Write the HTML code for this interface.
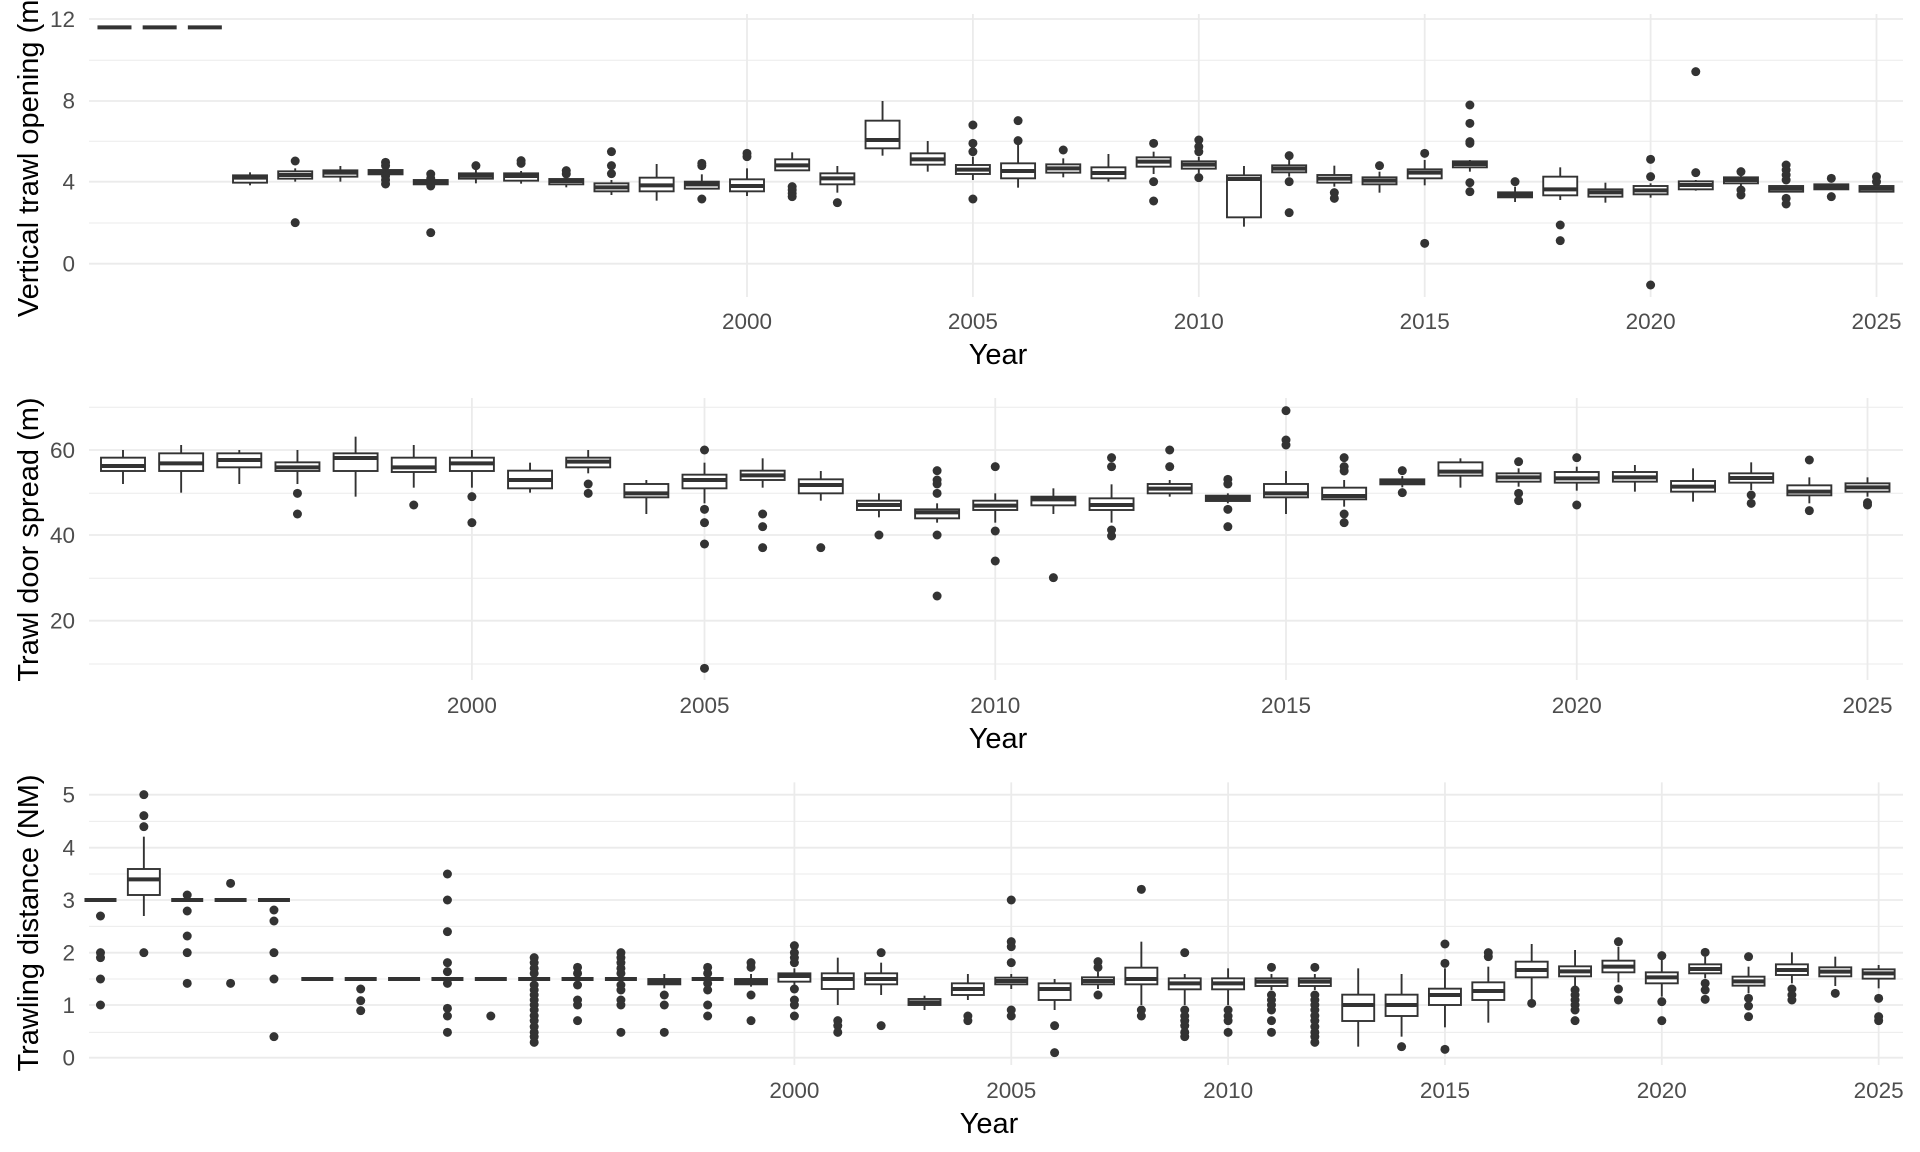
<!DOCTYPE html>
<html><head><meta charset="utf-8"><style>
html,body{margin:0;padding:0;background:#fff;}
svg{display:block;}
text{font-family:"Liberation Sans",Arial,sans-serif;}
</style></head><body>
<svg id="s" xmlns="http://www.w3.org/2000/svg" width="1920" height="1152" viewBox="0 0 1920 1152"></svg>
<script>
const S=document.getElementById('s');let h='';
const G='#ebebeb',D='#333333';
function grid(x0,x1,yMaj,yMin,xs,yt,yb){
 yMin.forEach(y=>h+=`<line x1="${x0}" x2="${x1}" y1="${y}" y2="${y}" stroke="${G}" stroke-width="1"/>`);
 yMaj.forEach(y=>h+=`<line x1="${x0}" x2="${x1}" y1="${y}" y2="${y}" stroke="${G}" stroke-width="1.8"/>`);
 xs.forEach(x=>h+=`<line x1="${x}" x2="${x}" y1="${yt}" y2="${yb}" stroke="${G}" stroke-width="1.8"/>`);
}
function lab(x,y,t,a,sz,col){h+=`<text x="${x}" y="${y}" font-size="${sz}" fill="${col}" text-anchor="${a}">${t}</text>`;}
function ytitle(cy,t){h+=`<text transform="translate(38,${cy}) rotate(-90)" font-size="29" fill="#000" text-anchor="middle">${t}</text>`;}
function box(x,hw,q1,m,q3,w1,w2,outs){
 if(w1==null)w1=q1; if(w2==null)w2=q3;
 h+=`<line x1="${x}" x2="${x}" y1="${w1}" y2="${q1}" stroke="${D}" stroke-width="1.9"/>`;
 h+=`<line x1="${x}" x2="${x}" y1="${q3}" y2="${w2}" stroke="${D}" stroke-width="1.9"/>`;
 if(q3-q1>0.5) h+=`<rect x="${x-hw}" y="${q1}" width="${2*hw}" height="${q3-q1}" fill="#fff" stroke="${D}" stroke-width="1.9"/>`;
 h+=`<line x1="${x-hw}" x2="${x+hw}" y1="${m}" y2="${m}" stroke="${D}" stroke-width="4"/>`;
 (outs||[]).forEach(o=>h+=`<circle cx="${x}" cy="${o}" r="4.5" fill="${D}"/>`);
}
(function(){
 const X=y=>747+45.18*(y-2000), Y=z=>z/3;
 grid(89,1903,[19,101,181.7,263.7],[60.3,141.3,223],[0,5,10,15,20,25].map(k=>X(2000+k)),14,297);
 [['12',27],['8',108.5],['4',189.5],['0',271.5]].forEach(a=>lab(75,a[1],a[0],'end',22.5,'#4d4d4d'));
 [0,5,10,15,20,25].forEach(k=>lab(X(2000+k),329,2000+k,'middle',22.5,'#4d4d4d'));
 lab(998,364,'Year','middle',29,'#000');
 ytitle(153.5,'Vertical trawl opening (m)');
 const d=[
 [1986,82,82,82],[1987,82,82,82],[1988,82,82,82],
 [1989,526,533,548,517,556],[1990,514,525,536,505,545,[483,668]],[1991,511,518,530,498,545],
 [1992,510,516,523,null,null,[487,497,528,540,552]],[1993,540,546,553,null,null,[522,535,558,698]],
 [1994,520,527,536,510,550,[497]],[1995,520,528,542,513,551,[482,490]],[1996,537,543,553,null,562,[512,522]],
 [1997,550,562,574,540,585,[455,497,521]],[1998,533,556,574,492,602],[1999,545,553,566,523,566,[490,497,597]],
 [2000,538,558,574,505,588,[460,470]],[2001,478,496,511,457,511,[560,570,580,590]],[2002,520,535,553,498,578,[608]],
 [2003,362,420,445,303,467],[2004,460,478,494,423,515],
 [2005,495,509,522,470,540,[375,430,455,597]],[2006,490,513,535,422,563,[362,422]],[2007,493,505,518,475,532,[450]],
 [2008,502,519,535,462,545],[2009,472,485,500,455,522,[430,545,603]],[2010,484,494,506,470,520,[420,440,455,533]],
 [2011,526,537,652,498,680],[2012,496,506,517,480,530,[467,545,638]],[2013,525,536,548,497,560,[578,595]],
 [2014,532,542,553,515,578,[497]],[2015,508,518,535,480,556,[460,730]],[2016,484,492,502,480,515,[315,370,425,430,548,575]],
 [2017,577,585,592,560,606,[545]],[2018,530,568,586,502,600,[675,722]],[2019,568,577,590,548,608],
 [2020,558,571,583,550,593,[478,530,855]],[2021,544,555,568,540,572,[215,518]],[2022,532,540,550,520,560,[515,570,585]],
 [2023,558,566,575,null,null,[495,510,525,540,595,612]],[2024,553,560,568,null,null,[535,590]],[2025,558,566,575,null,null,[530,545]]];
 d.forEach(r=>box(X(r[0]),17,Y(r[1]),Y(r[2]),Y(r[3]),r[4]==null?null:Y(r[4]),r[5]==null?null:Y(r[5]),(r[6]||[]).map(Y)));
})();
(function(){
 const X=i=>123+58.15*i, Y=z=>390+z/3;
 grid(89,1903,[450,535,620.7],[407.3,493.3,578.3,664],[6,10,15,20,25,30].map(X),398,680);
 [['60',458],['40',543],['20',628.5]].forEach(a=>lab(75,a[1],a[0],'end',22.5,'#4d4d4d'));
 [[6,2000],[10,2005],[15,2010],[20,2015],[25,2020],[30,2025]].forEach(a=>lab(X(a[0]),713,a[1],'middle',22.5,'#4d4d4d'));
 lab(998,748,'Year','middle',29,'#000');
 ytitle(539.5,'Trawl door spread (m)');
 const d=[
 [203,228,243,180,282],[190,220,243,165,308],[190,210,232,180,282],[217,232,243,180,282,[310,372]],
 [190,204,243,140,320],[203,232,246,165,293,[345]],[203,220,243,180,293,[320,398]],[242,270,295,218,308],
 [203,215,232,180,250,[282,310]],[282,310,322,270,372],[254,270,295,218,340,[180,358,398,462,835]],
 [242,256,270,205,293,[372,410,473]],[268,285,310,243,332,[473]],[332,345,360,310,382,[435]],
 [358,367,385,340,398,[242,270,282,310,435,618]],
 [332,347,360,310,398,[230,423,513]],[320,328,346,295,372,[563]],[325,345,360,283,398,[203,230,420,438]],
 [282,296,310,270,320,[180,230]],[317,325,333,310,340,[268,282,358,410]],[282,310,322,243,372,[62,150,165]],
 [293,318,328,270,350,[203,230,243,372,398]],[268,275,283,258,292,[242,308]],[217,245,257,205,293],
 [250,262,275,235,290,[215,310,332]],[246,265,278,230,302,[203,345]],[246,262,275,225,305],
 [273,290,305,235,335],[250,264,278,217,300,[315,340]],[286,305,316,262,340,[210,362]],[280,292,305,262,320,[338,345]]];
 d.forEach((r,i)=>box(X(i),22,Y(r[0]),Y(r[1]),Y(r[2]),Y(r[3]),Y(r[4]),(r[5]||[]).map(Y)));
})();
(function(){
 const X=y=>794.4+43.37*(y-2000), Y=z=>770+z/3;
 grid(89,1903,[74,233,390,548,705,863].map(Y),[154,312,469,627,787].map(Y),[0,5,10,15,20,25].map(k=>X(2000+k)),Y(37),Y(885));
 ['5','4','3','2','1','0'].forEach((t,i)=>lab(75,Y([74,233,390,548,705,863][i])+8,t,'end',22.5,'#4d4d4d'));
 [0,5,10,15,20,25].forEach(k=>lab(X(2000+k),1098,2000+k,'middle',22.5,'#4d4d4d'));
 lab(989,1133,'Year','middle',29,'#000');
 ytitle(923,'Trawling distance (NM)');
 const d=[
 [1984,390,390,390,null,null,[438,548,563,627,705]],[1985,297,328,375,200,438,[74,137,170,548]],
 [1986,390,390,390,368,null,[375,423,498,548,640]],[1987,390,390,390,null,null,[340,640]],
 [1988,390,390,390,null,null,[420,453,548,627,800]],[1989,627,627,627],[1990,627,627,627,null,null,[657,692,722]],
 [1991,627,627,627],[1992,627,627,627,null,null,[312,390,485,578,605,640,715,738,787]],[1993,627,627,627,null,null,[738]],
 [1994,627,627,627,null,null,[563,578,595,610,645,660,675,690,705,720,737,752,770,787,800,817]],
 [1995,627,627,627,null,null,[592,610,645,690,705,752]],[1996,627,627,627,null,null,[548,563,578,595,610,645,660,690,705,787]],
 [1997,627,635,643,612,655,[675,705,787]],[1998,627,627,627,null,null,[592,610,640,660,705,738]],
 [1999,627,635,643,612,650,[578,592,675,752]],[2000,610,618,635,595,650,[527,548,563,578,657,690,705,738]],
 [2001,610,627,657,563,705,[752,767,787]],[2002,610,627,643,578,675,[548,767]],[2003,687,697,705,677,720],
 [2004,640,657,675,612,690,[738,752]],[2005,623,633,643,612,657,[390,515,530,578,720,738]],
 [2006,640,657,690,627,720,[767,848]],[2007,622,633,643,605,657,[575,592,675]],[2008,593,627,643,515,705,[358,720,738]],
 [2009,625,640,658,612,705,[548,720,738,752,767,787,800]],[2010,625,640,658,595,705,[720,738,752,787]],
 [2011,625,635,648,612,660,[592,675,690,705,720,752,787]],[2012,625,635,648,612,660,[592,675,690,705,720,737,752,770,787,800,817]],
 [2013,674,705,753,595,830],[2014,674,705,738,612,800,[830]],[2015,656,675,705,595,772,[522,580,838]],
 [2016,637,663,690,590,758,[548,560]],[2017,575,600,622,522,690,[700]],[2018,589,604,619,540,650,[660,675,690,705,720,752]],
 [2019,572,590,607,530,637,[515,657,690]],[2020,607,622,640,560,680,[557,695,752]],[2021,583,597,610,560,625,[547,640,660,688]],
 [2022,620,634,647,590,670,[560,685,708,740]],[2023,583,600,615,547,640,[657,675,690]],[2024,592,605,619,560,648,[670]],
 [2025,598,610,626,585,655,[685,740,752]]];
 d.forEach(r=>box(X(r[0]),16,Y(r[1]),Y(r[2]),Y(r[3]),r[4]==null?null:Y(r[4]),r[5]==null?null:Y(r[5]),(r[6]||[]).map(Y)));
})();
S.innerHTML=h;
</script>
</body></html>
